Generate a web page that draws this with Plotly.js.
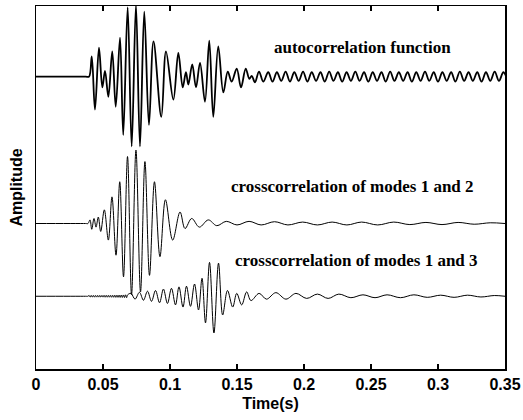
<!DOCTYPE html>
<html>
<head>
<meta charset="utf-8">
<script src="https://cdn.plot.ly/plotly-3.0.1.min.js"></script>
<style>
  html, body { margin: 0; padding: 0; background: #fff; }
  #chart { width: 523px; height: 420px; }
</style>
</head>
<body>
<div id="chart"></div>
<script>
// Autocorrelation function: turning points of the waveform (time in s, normalised amplitude)
const autoTime = [0, 0.0370, 0.0396, 0.0416, 0.0440, 0.0470, 0.0495, 0.0515, 0.0540, 0.0569, 0.0595,
  0.0627, 0.0651, 0.0684, 0.0714, 0.0746, 0.0776, 0.0808, 0.0843, 0.0877, 0.0935,
  0.0970, 0.1025, 0.1062, 0.1095, 0.1119, 0.1137, 0.1166, 0.1194, 0.1224, 0.1261,
  0.1293, 0.1323, 0.1360, 0.1398, 0.1431, 0.1460, 0.1498, 0.1530, 0.1565, 0.1592,
  0.1610, 0.1634, 0.1664, 0.1696,
  0.1733, 0.1765, 0.1798, 0.1830, 0.1863, 0.1895, 0.1928, 0.1960, 0.1993, 0.2025,
  0.2058, 0.2090, 0.2123, 0.2155, 0.2188, 0.2220, 0.2253, 0.2285, 0.2318, 0.2350,
  0.2383, 0.2415, 0.2448, 0.2480, 0.2513, 0.2545, 0.2578, 0.2610, 0.2643, 0.2675,
  0.2708, 0.2740, 0.2773, 0.2805, 0.2838, 0.2870, 0.2903, 0.2935, 0.2968, 0.3000,
  0.3033, 0.3065, 0.3098, 0.3130, 0.3163, 0.3195, 0.3228, 0.3260, 0.3293, 0.3325,
  0.3358, 0.3390, 0.3423, 0.3455, 0.3488, 0.3520];
const autoAmp = [0, 0, 0, 0.28, -0.46, 0.40, -0.15, 0.08, -0.28, 0.35, -0.42,
  0.54, -0.81, 0.96, -0.97, 1.00, -0.97, 0.90, -0.67, 0.49, -0.56,
  0.35, -0.32, 0.33, -0.15, 0.06, -0.11, 0.17, -0.15, 0.19, -0.35,
  0.50, -0.56, 0.42, -0.22, 0.07, -0.07, 0.11, -0.15, 0.11, -0.03,
  0.01, -0.08, 0.07, -0.07,
  0.06, -0.07, 0.06, -0.06, 0.07, -0.07, 0.06, -0.06, 0.07, -0.07,
  0.06, -0.06, 0.06, -0.07, 0.07, -0.06, 0.06, -0.07, 0.06, -0.06,
  0.07, -0.06, 0.06, -0.07, 0.06, -0.06, 0.06, -0.07, 0.07, -0.06,
  0.06, -0.06, 0.06, -0.07, 0.06, -0.06, 0.07, -0.06, 0.06, -0.07,
  0.06, -0.06, 0.06, -0.07, 0.07, -0.06, 0.06, -0.06, 0.06, -0.07,
  0.06, -0.06, 0.07, -0.06, 0.06, -0.06];

// Crosscorrelation of modes 1 and 2
const cross12Time = [0, 0.0370, 0.0388, 0.0403, 0.0416, 0.0433, 0.0448, 0.0465, 0.0483, 0.0510, 0.0540,
  0.0567, 0.0597, 0.0625, 0.0653, 0.0683, 0.0713, 0.0746, 0.0780, 0.0813, 0.0847,
  0.0884, 0.0925, 0.0966, 0.1020, 0.1075, 0.1112, 0.1162, 0.1219, 0.1286, 0.1349,
  0.1420, 0.1500, 0.1590, 0.1680, 0.1780, 0.1880, 0.1990, 0.2100, 0.2210, 0.2320,
  0.2430, 0.2550, 0.2670, 0.2790, 0.2910, 0.3030, 0.3150, 0.3270, 0.3390, 0.3500];
const cross12Amp = [0, 0, 0, 0.05, -0.08, 0.07, -0.05, 0.09, -0.11, 0.19, -0.23,
  0.37, -0.44, 0.58, -0.74, 0.93, -0.99, 1.02, -0.95, 0.86, -0.72,
  0.58, -0.46, 0.33, -0.23, 0.16, -0.07, 0.07, -0.05, 0.05, -0.03,
  0.03, -0.02, 0.03, -0.02, 0.025, -0.02, 0.02, -0.02, 0.02, -0.02,
  0.02, -0.02, 0.02, -0.015, 0.015, -0.015, 0.015, -0.01, 0.01, 0];

// Crosscorrelation of modes 1 and 3
const cross13Time = [0, 0.0370, 0.0388,
  0.0396, 0.0404, 0.0412, 0.0420, 0.0428, 0.0436, 0.0444, 0.0452, 0.0460, 0.0468,
  0.0476, 0.0484, 0.0492, 0.0500, 0.0508, 0.0516, 0.0524, 0.0532, 0.0540, 0.0548,
  0.0556, 0.0564, 0.0572, 0.0580, 0.0588, 0.0596, 0.0604, 0.0612, 0.0620, 0.0628,
  0.0636, 0.0644, 0.0652, 0.0660, 0.0668, 0.0676, 0.0684,
  0.0709, 0.0739, 0.0772, 0.0802, 0.0832, 0.0862, 0.0892, 0.0922, 0.0951, 0.0981,
  0.1011, 0.1041, 0.1067, 0.1097, 0.1123, 0.1153, 0.1183, 0.1213, 0.1239, 0.1265,
  0.1295, 0.1328, 0.1362, 0.1393, 0.1429, 0.1468, 0.1498, 0.1535, 0.1572, 0.1604,
  0.1665, 0.1720, 0.1790, 0.1865, 0.1940, 0.2020, 0.2100, 0.2180, 0.2260, 0.2350,
  0.2440, 0.2530, 0.2620, 0.2720, 0.2820, 0.2920, 0.3020, 0.3120, 0.3220, 0.3320,
  0.3420, 0.3500];
const cross13Amp = [0, 0, 0,
  0.012, -0.012, 0.012, -0.012, 0.012, -0.012, 0.012, -0.012, 0.012, -0.012,
  0.012, -0.012, 0.012, -0.012, 0.013, -0.013, 0.013, -0.013, 0.013, -0.013,
  0.014, -0.014, 0.014, -0.014, 0.015, -0.015, 0.015, -0.015, 0.016, -0.016,
  0.017, -0.017, 0.018, -0.018, 0.02, -0.02, 0.02,
  0.04, -0.04, 0.055, -0.055, 0.07, -0.07, 0.08, -0.09, 0.10, -0.10,
  0.11, -0.12, 0.13, -0.15, 0.14, -0.14, 0.17, -0.19, 0.25, -0.37,
  0.47, -0.51, 0.46, -0.26, 0.08, -0.15, 0.04, -0.12, 0.06, -0.06,
  0.04, -0.04, 0.05, -0.04, 0.04, -0.03, 0.03, -0.03, 0.03, -0.02,
  0.02, -0.02, 0.02, -0.02, 0.02, -0.015, 0.015, -0.015, 0.015, -0.01,
  0.01, 0];

const xTickVals = [0, 0.05, 0.1, 0.15, 0.2, 0.25, 0.3, 0.35];
const xTickText = ['0', '0.05', '0.1', '0.15', '0.2', '0.25', '0.3', '0.35'];

const traceLabels = ['autocorrelation function',
  'crosscorrelation of modes 1 and 2',
  'crosscorrelation of modes 1 and 3'];

// Vertical offsets that stack the three waveforms
const offsets = [4.06, 2.02, 1.01];
const lineWidths = [1.8, 1.0, 1.0];

function shifted(amp, off) { return amp.map(v => v + off); }

const series = [[autoTime, autoAmp], [cross12Time, cross12Amp], [cross13Time, cross13Amp]];
const traces = series.map((s, i) => ({
  type: 'scatter',
  mode: 'lines',
  x: s[0],
  y: shifted(s[1], offsets[i]),
  name: traceLabels[i],
  line: { color: '#000', width: lineWidths[i], shape: 'spline', smoothing: 1 },
  hoverinfo: 'skip'
}));

const labelPos = [[0.244, 4.47], [0.236, 2.54], [0.239, 1.51]];
const annotations = traceLabels.map((t, i) => ({
  x: labelPos[i][0], y: labelPos[i][1], xref: 'x', yref: 'y',
  text: t, showarrow: false,
  font: { family: 'Liberation Serif, Times New Roman, serif', size: 17, color: '#000', weight: 'bold' }
}));

const sansBold = { family: 'Liberation Sans, Arial, sans-serif', color: '#000', weight: 'bold' };

const layout = {
  width: 523, height: 420,
  margin: { l: 36, r: 18, t: 6, b: 51 },
  paper_bgcolor: '#fff', plot_bgcolor: '#fff',
  showlegend: false,
  xaxis: {
    range: [0, 0.35],
    tickvals: xTickVals, ticktext: xTickText,
    ticks: 'inside', ticklen: 5, tickwidth: 1.2, tickcolor: '#000',
    showline: true, linecolor: '#000', linewidth: 1.5, mirror: 'ticks',
    showgrid: false, zeroline: false,
    tickfont: Object.assign({ size: 16 }, sansBold),
    title: { text: 'Time(s)', font: Object.assign({ size: 16 }, sansBold), standoff: 6 }
  },
  yaxis: {
    range: [0, 5.04],
    showticklabels: false, ticks: '',
    showline: true, linecolor: '#000', linewidth: 1.5, mirror: true,
    showgrid: false, zeroline: false,
    title: { text: 'Amplitude', font: Object.assign({ size: 16 }, sansBold), standoff: 8 }
  },
  annotations: annotations
};

Plotly.newPlot('chart', traces, layout, { staticPlot: true, displayModeBar: false });
</script>
</body>
</html>
